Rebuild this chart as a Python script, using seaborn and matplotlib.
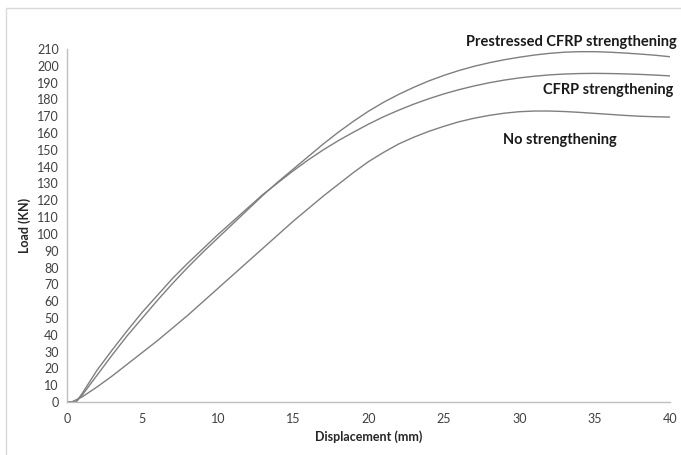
import matplotlib
matplotlib.use("Agg")
import matplotlib.pyplot as plt
import seaborn as sns
import pandas as pd
from matplotlib.lines import Line2D

# Displacement (mm) / load (kN) points
disp_p = [0, 0.6, 1, 2, 3, 4, 5, 6, 7, 8, 9, 10, 11, 12, 13, 14, 15, 16, 17, 18, 19, 20,
          21, 22, 23, 24, 25, 26, 27, 28, 29, 30, 31, 32, 33, 34, 35, 36, 37, 38, 39, 40]
load_p = [0, 0, 4, 16, 28, 39.5, 50, 60.5, 70.5, 80, 89, 97.5, 106, 114.5, 123, 131, 138.5,
          146, 153.5, 160.5, 167, 173, 178.3, 183, 187.2, 191, 194.3, 197.2, 199.7, 201.8, 203.6,
          205.1, 206.4, 207.4, 208.1, 208.4, 208.4, 208.1, 207.6, 207, 206.3, 205.4]

disp_c = [0, 0.6, 1, 2, 3, 4, 5, 6, 7, 8, 9, 10, 11, 12, 13, 14, 15, 16, 17, 18, 19, 20,
          21, 22, 23, 24, 25, 26, 27, 28, 29, 30, 31, 32, 33, 34, 35, 36, 37, 38, 39, 40]
load_c = [0, 0, 5, 19, 31, 42.5, 53.5, 63.5, 73.5, 82.5, 91, 99.5, 107.5, 115.5, 123.5, 130.5,
          137.5, 144, 150, 155.5, 160.5, 165.3, 169.7, 173.6, 177.2, 180.4, 183.3, 185.8, 188,
          189.9, 191.5, 192.8, 193.8, 194.6, 195.1, 195.4, 195.5, 195.4, 195.2, 194.9, 194.5, 194]

disp_n = [0, 0.3, 1, 2, 3, 4, 5, 6, 7, 8, 9, 10, 11, 12, 13, 14, 15, 16, 17, 18, 19, 20,
          21, 22, 23, 24, 25, 26, 27, 28, 29, 30, 31, 32, 33, 34, 35, 36, 37, 38, 39, 40]
load_n = [0, 0, 3, 9, 15.5, 22.5, 29.5, 36.5, 44, 51.5, 59.5, 67.5, 75.5, 83.5, 91.5, 99.5,
          107.5, 115, 122.5, 129.5, 136.5, 143, 148.5, 153.5, 157.5, 161, 164, 166.7, 168.8,
          170.5, 171.8, 172.7, 173.1, 173.1, 172.8, 172.3, 171.7, 171.1, 170.5, 170, 169.7, 169.5]

series_names = ["Prestressed CFRP strengthening", "CFRP strengthening", "No strengthening"]
x_ticks = list(range(0, 41, 5))
y_ticks = list(range(0, 211, 10))

frames = []
for name, xs, ys in zip(series_names, [disp_p, disp_c, disp_n], [load_p, load_c, load_n]):
    frames.append(pd.DataFrame({"disp": xs, "load": ys, "series": name}))
df = pd.concat(frames, ignore_index=True)

sns.set_style("white")
plt.rcParams['font.family'] = ['Lato', 'DejaVu Sans']

fig = plt.figure(figsize=(6.81, 4.55), dpi=100)
ax = fig.add_axes([67/681, 53/455, (670-67)/681, (402-49)/455])

sns.lineplot(data=df, x="disp", y="load", units="series", estimator=None,
             color="#7f7f7f", linewidth=1.0, sort=False, ax=ax, legend=False)

ax.set_xlim(0, 40)
ax.set_ylim(0, 210)
ax.set_xticks(x_ticks)
ax.set_yticks(y_ticks)
ax.tick_params(axis="both", length=0, labelsize=9, colors="#404040", pad=6)
ax.tick_params(axis="x", pad=8)
for s in ["top", "right"]:
    ax.spines[s].set_visible(False)
for s in ["left", "bottom"]:
    ax.spines[s].set_color("#bfbfbf")
    ax.spines[s].set_linewidth(1.0)

ax.set_xlabel("Displacement (mm)", fontsize=9, fontweight="bold", color="#262626", labelpad=4)
ax.set_ylabel("Load (KN)", fontsize=9, fontweight="bold", color="#262626", labelpad=4)

ax.text(33.45, 214, series_names[0], ha="center", va="center", fontsize=10.5, fontweight="bold",
        color="#1a1a1a", clip_on=False)
ax.text(35.9, 185.6, series_names[1], ha="center", va="center", fontsize=10.5, fontweight="bold",
        color="#1a1a1a", clip_on=False)
ax.text(32.7, 155.9, series_names[2], ha="center", va="center", fontsize=10.5, fontweight="bold",
        color="#1a1a1a", clip_on=False)

# light frame around the chart area
fig.add_artist(Line2D([6/681, 6/681], [0, 1 - 8/455], transform=fig.transFigure, color="#d9d9d9", lw=1))
fig.add_artist(Line2D([6/681, 1], [1 - 8/455, 1 - 8/455], transform=fig.transFigure, color="#d9d9d9", lw=1))

fig.savefig("out.png", dpi=100)
